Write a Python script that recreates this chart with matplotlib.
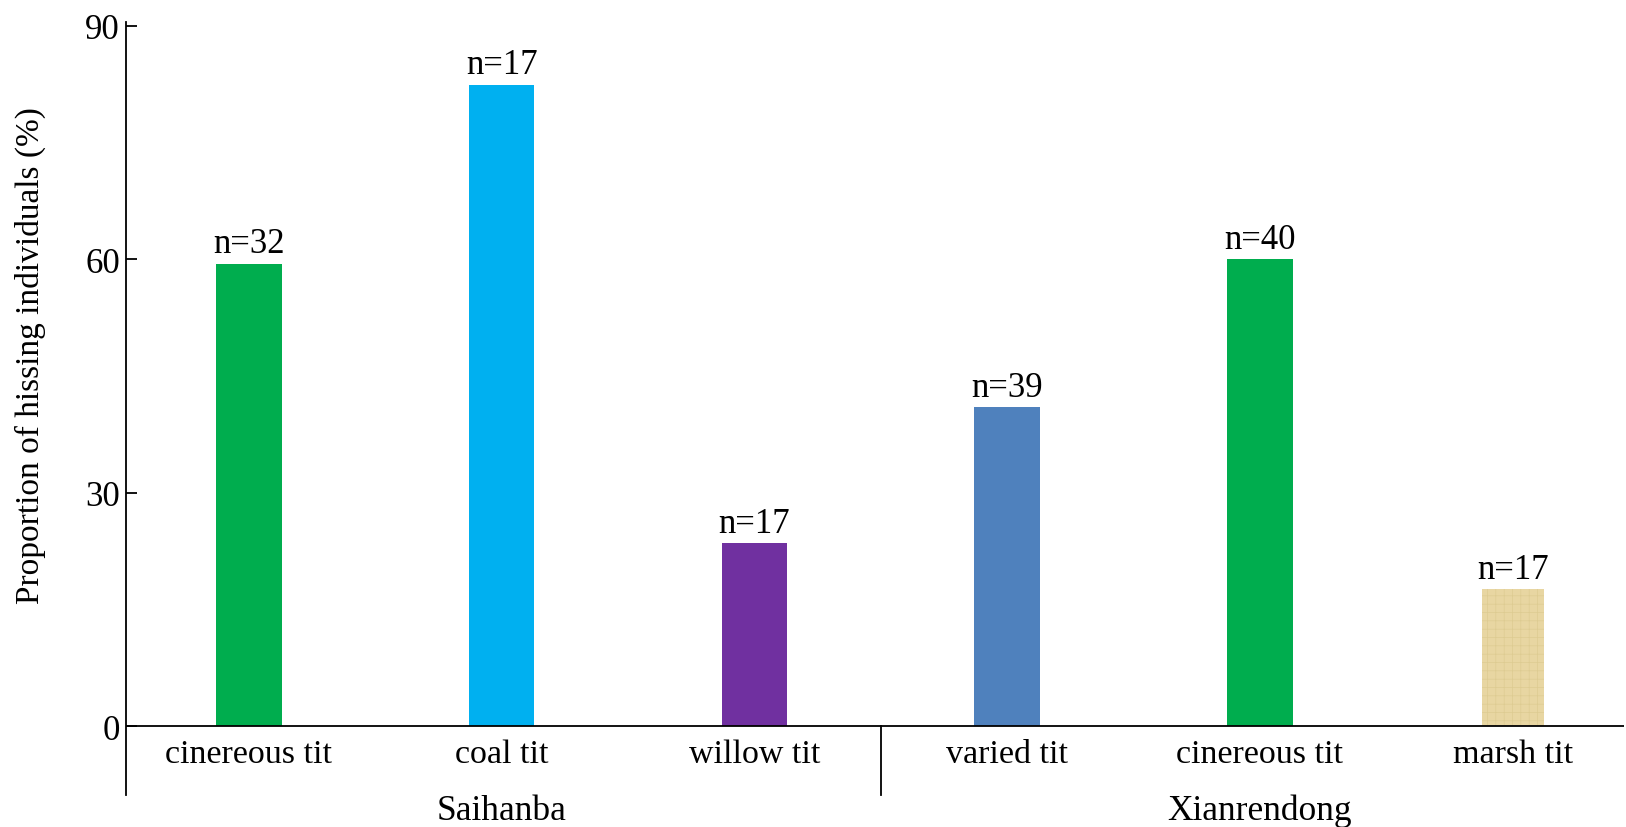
import matplotlib.pyplot as plt

plt.rcParams['font.family'] = ['Liberation Serif', 'DejaVu Serif']
plt.rcParams['hatch.linewidth'] = 0.5

# data
species = ['cinereous tit', 'coal tit', 'willow tit', 'varied tit', 'cinereous tit', 'marsh tit']
proportion = [59.4, 82.4, 23.5, 41.0, 60.0, 17.6]
sample_n = [32, 17, 17, 39, 40, 17]
sites = ['Saihanba', 'Xianrendong']
site_centre = [1, 4]
bar_colors = ['#00AD4E', '#00B0F0', '#7030A0', '#4F81BD', '#00AD4E', '#E8D6A2']
bar_widths = [0.26, 0.26, 0.26, 0.26, 0.26, 0.245]

fig = plt.figure(figsize=(16.26, 8.28), dpi=100)
ax = fig.add_axes([0.0772, 0.0388, 0.9215, 0.9336])

x = list(range(len(species)))
bars = ax.bar(x, proportion, width=bar_widths, color=bar_colors, linewidth=0)
# papyrus-like texture on the marsh tit bar
bars[-1].set_hatch('++')
bars[-1].set_edgecolor('#DDCB92')

ax.set_xlim(-0.488, 5.44)
ax.set_ylim(-8.8, 90.5)

# spines
for side in ['top', 'right', 'bottom']:
    ax.spines[side].set_visible(False)
ax.spines['left'].set_linewidth(1.3)
ax.axhline(0, color='black', linewidth=1.3)
ax.plot([2.5, 2.5], [-8.8, 0], color='black', linewidth=1.3, clip_on=False)

ax.set_yticks([0, 30, 60, 90])
ax.tick_params(axis='y', direction='in', length=8, width=1.3, labelsize=25, pad=4)
ax.set_xticks([])
ax.set_ylabel('Proportion of hissing individuals (%)', fontsize=24)
ax.yaxis.set_label_coords(-0.053, 0.57)

# n labels above bars
for xi, val, n in zip(x, proportion, sample_n):
    ax.text(xi, val + 1.5, f'n={n}', ha='center', va='baseline', fontsize=25)

# species labels under the axis line
for xi, name in zip(x, species):
    ax.text(xi, -4.6, name, ha='center', va='baseline', fontsize=24.5, clip_on=False)

# site labels
for xc, site in zip(site_centre, sites):
    ax.text(xc, -11.9, site, ha='center', va='baseline', fontsize=25.5, clip_on=False)

fig.savefig('out.png', dpi=100)
